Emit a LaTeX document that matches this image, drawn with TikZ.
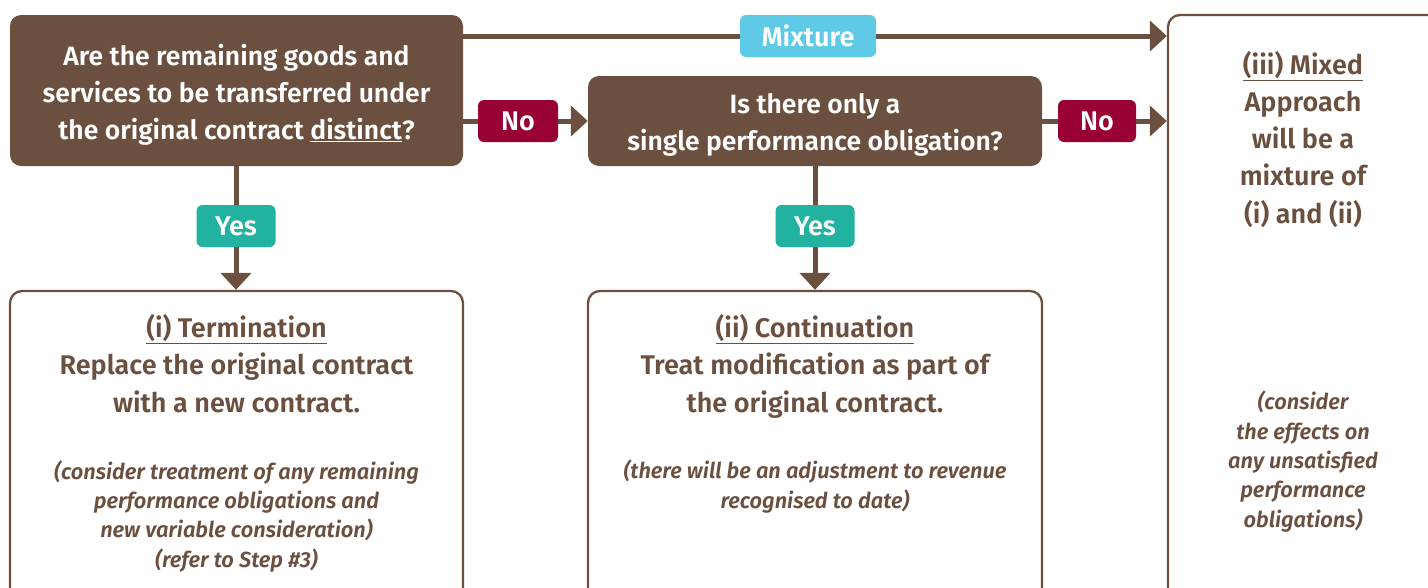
\documentclass[tikz,border=0pt]{standalone}
\usepackage{fontspec}
\setmainfont{Fira Sans}[BoldFont={Fira Sans SemiBold},BoldItalicFont={Fira Sans SemiBold Italic}]
\usetikzlibrary{arrows.meta,backgrounds}
\definecolor{brn}{HTML}{6B4F3F}
\definecolor{cy}{HTML}{5FCAE5}
\definecolor{rd}{HTML}{990033}
\definecolor{tl}{HTML}{22B3A0}
\begin{document}
\begin{tikzpicture}[x=1pt,y=-1pt,
  qbox/.style={fill=brn, rounded corners=11pt, text=white, align=center, inner sep=0pt,
    font=\bfseries\fontsize{26.5}{37}\selectfont},
  obox/.style={draw=brn, line width=2.3pt, rounded corners=12pt, inner sep=0pt},
  tag/.style={rounded corners=6pt, text=white, inner sep=0pt, minimum height=42pt,
    font=\bfseries\fontsize{27}{27}\selectfont},
  head/.style={anchor=base, align=center, text=brn, inner sep=0pt,
    font=\bfseries\fontsize{27}{37.2}\selectfont},
  note/.style={anchor=base, align=center, text=brn, inner sep=0pt,
    font=\bfseries\itshape\fontsize{21.8}{29.3}\selectfont},
  arr/.style={draw=brn, line width=5pt, -{Triangle[length=17pt,width=30pt]}},
]
\useasboundingbox (0,0) rectangle (1428,587);
\clip (0,0) rectangle (1428,587);

% question boxes
\node[qbox, minimum width=453pt, minimum height=151pt] (q1) at (236.5,90.5) {};
\node[qbox, minimum width=454pt, minimum height=90pt] (q2) at (815,121) {};
\node[qbox, fill=none, anchor=base] (q1t) at (q1.center |- 0,139)
  {Are the remaining goods and\\services to be transferred under\\the original contract \underline{distinct}?};
\node[qbox, fill=none, anchor=base] (q2t) at (q2.center |- 0,150)
  {Is there only a\\single performance obligation?};

% outcome boxes
\node[obox, minimum width=453pt, minimum height=320pt] (o1) at (236.5,451) {};
\node[obox, minimum width=454pt, minimum height=320pt] (o2) at (815,451) {};
\node[obox, minimum width=280pt, minimum height=600pt] (o3) at (1308,315) {};

% outcome texts (anchor = baseline of last line)
\node[head] (o1h) at (236.5,412) {\underline{(i) Termination}\\Replace the original contract\\with a new contract.};
\node[note] (o1n) at (236.5,567) {(consider treatment of any remaining\\performance obligations and\\new variable consideration)\\(refer to Step \#3)};
\node[head] (o2h) at (815,412) {\underline{(ii) Continuation}\\Treat modification as part of\\the original contract.};
\node[note] (o2n) at (815,508) {(there will be an adjustment to revenue\\recognised to date)};
\node[head] (o3h) at (1303,223) {\underline{(iii) Mixed}\\Approach\\will be a\\mixture of\\(i) and (ii)};
\node[note] (o3n) at (1303,527) {(consider\\the effects on\\any unsatisfied\\performance\\obligations)};

% labels
\node[tag, fill=cy, minimum width=136pt] (mix) at (808,36) {Mixture};
\node[tag, fill=rd, minimum width=80pt] (no1) at (518,121) {No};
\node[tag, fill=rd, minimum width=78pt] (no2) at (1097,121) {No};
\node[tag, fill=tl, minimum width=79pt] (yes1) at (236,226) {Yes};
\node[tag, fill=tl, minimum width=79pt] (yes2) at (815,226) {Yes};

% connectors
\begin{scope}[on background layer]
  \draw[arr] (q1.east |- mix) -- (o3.west |- mix);
  \draw[arr] (q1.east |- no1) -- (q2.west |- no1);
  \draw[arr] (q2.east |- no2) -- (o3.west |- no2);
  \draw[arr] (q1.south -| yes1) -- (o1.north -| yes1);
  \draw[arr] (q2.south -| yes2) -- (o2.north -| yes2);
\end{scope}
\end{tikzpicture}
\end{document}
